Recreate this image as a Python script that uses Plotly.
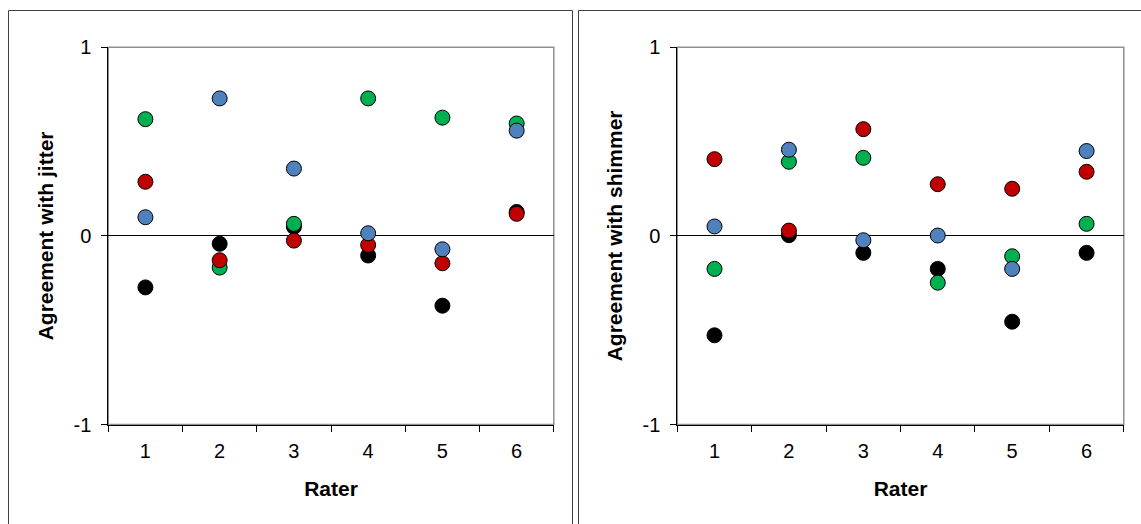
import plotly.graph_objects as go

W, H = 1141, 524

raters = [1, 2, 3, 4, 5, 6]
tick_labels = ["1", "2", "3", "4", "5", "6"]

# Agreement with jitter
jitter_black = [-0.273, -0.042, 0.048, -0.104, -0.370, 0.127]
jitter_green = [0.619, -0.168, 0.064, 0.729, 0.627, 0.596]
jitter_red = [0.287, -0.129, -0.025, -0.048, -0.145, 0.117]
jitter_blue = [0.099, 0.729, 0.357, 0.014, -0.071, 0.558]

# Agreement with shimmer
shimmer_black = [-0.527, 0.004, -0.090, -0.175, -0.455, -0.090]
shimmer_green = [-0.175, 0.393, 0.414, -0.248, -0.108, 0.064]
shimmer_red = [0.407, 0.028, 0.566, 0.274, 0.250, 0.340]
shimmer_blue = [0.050, 0.457, -0.023, 0.002, -0.175, 0.450]

colors = {"black": "#000000", "green": "#00B050", "red": "#C00000", "blue": "#4F81BD"}

fig = go.Figure()

def add_series(vals, color, xa, ya):
    fig.add_trace(go.Scatter(
        x=raters, y=vals, mode="markers", xaxis=xa, yaxis=ya,
        marker=dict(size=15, color=color, line=dict(color="#000000", width=1)),
        showlegend=False, hoverinfo="x+y"))

for vals, c in [(jitter_black, "black"), (jitter_green, "green"), (jitter_red, "red"), (jitter_blue, "blue")]:
    add_series(vals, colors[c], "x", "y")
for vals, c in [(shimmer_black, "black"), (shimmer_green, "green"), (shimmer_red, "red"), (shimmer_blue, "blue")]:
    add_series(vals, colors[c], "x2", "y2")

def px(x):
    return x / W

def py(y):
    return 1 - y / H

font_tick = dict(family="Liberation Sans, Arial, sans-serif", size=20, color="#000000")
font_title = dict(family="Liberation Sans, Arial, sans-serif", size=21, color="#000000")

top, bottom = 47.3, 424.5
panels = [("", 108.3, 553.8, "Agreement with jitter"), ("2", 677.3, 1123.8, "Agreement with shimmer")]

layout = dict(
    width=W, height=H, margin=dict(l=0, r=0, t=0, b=0),
    paper_bgcolor="white", plot_bgcolor="white",
)
for suf, x0, x1, ytitle in panels:
    layout["xaxis" + suf] = dict(
        domain=[px(x0), px(x1)], range=[0.5, 6.5], anchor="y" + suf,
        tickvals=raters, ticktext=tick_labels, ticks="", showgrid=False, zeroline=False,
        showline=True, linecolor="#000000", linewidth=1,
        minor=dict(ticks="outside", tick0=0.5, dtick=1, ticklen=6, tickcolor="#000000", tickwidth=1, showgrid=False),
        tickfont=font_tick, ticklabelstandoff=8,
        title=dict(text="<b>Rater</b>", font=font_title, standoff=20),
        automargin=False, fixedrange=True,
    )
    layout["yaxis" + suf] = dict(
        domain=[py(bottom), py(top)], range=[-1, 1], anchor="x" + suf,
        tickvals=[-1, 0, 1], ticktext=["-1", "0", "1"], ticks="outside", ticklen=6,
        tickcolor="#000000", showgrid=False,
        zeroline=True, zerolinecolor="#000000", zerolinewidth=1,
        showline=True, linecolor="#000000", linewidth=1,
        tickfont=font_tick, ticklabelstandoff=6,
        title=dict(text="<b>" + ytitle + "</b>", font=font_title, standoff=14),
        automargin=False, fixedrange=True,
    )

shapes = [
    # outer panel frames
    dict(type="rect", xref="paper", yref="paper", x0=px(8.5), x1=px(572.5), y0=py(540), y1=py(10.5),
         line=dict(color="#404040", width=1), layer="below"),
    dict(type="rect", xref="paper", yref="paper", x0=px(578.5), x1=px(1160), y0=py(540), y1=py(10.5),
         line=dict(color="#404040", width=1), layer="below"),
]
for suf, x0, x1, _ in panels:
    shapes.append(dict(type="rect", xref="paper", yref="paper", x0=px(x0), x1=px(x1), y0=py(bottom), y1=py(top),
                       line=dict(color="#909090", width=1.5), layer="below"))
layout["shapes"] = shapes

fig.update_layout(**layout)
fig.write_html("out.html", config={"displayModeBar": False},
               post_script="document.body.style.margin='0';document.body.style.overflow='hidden';")
